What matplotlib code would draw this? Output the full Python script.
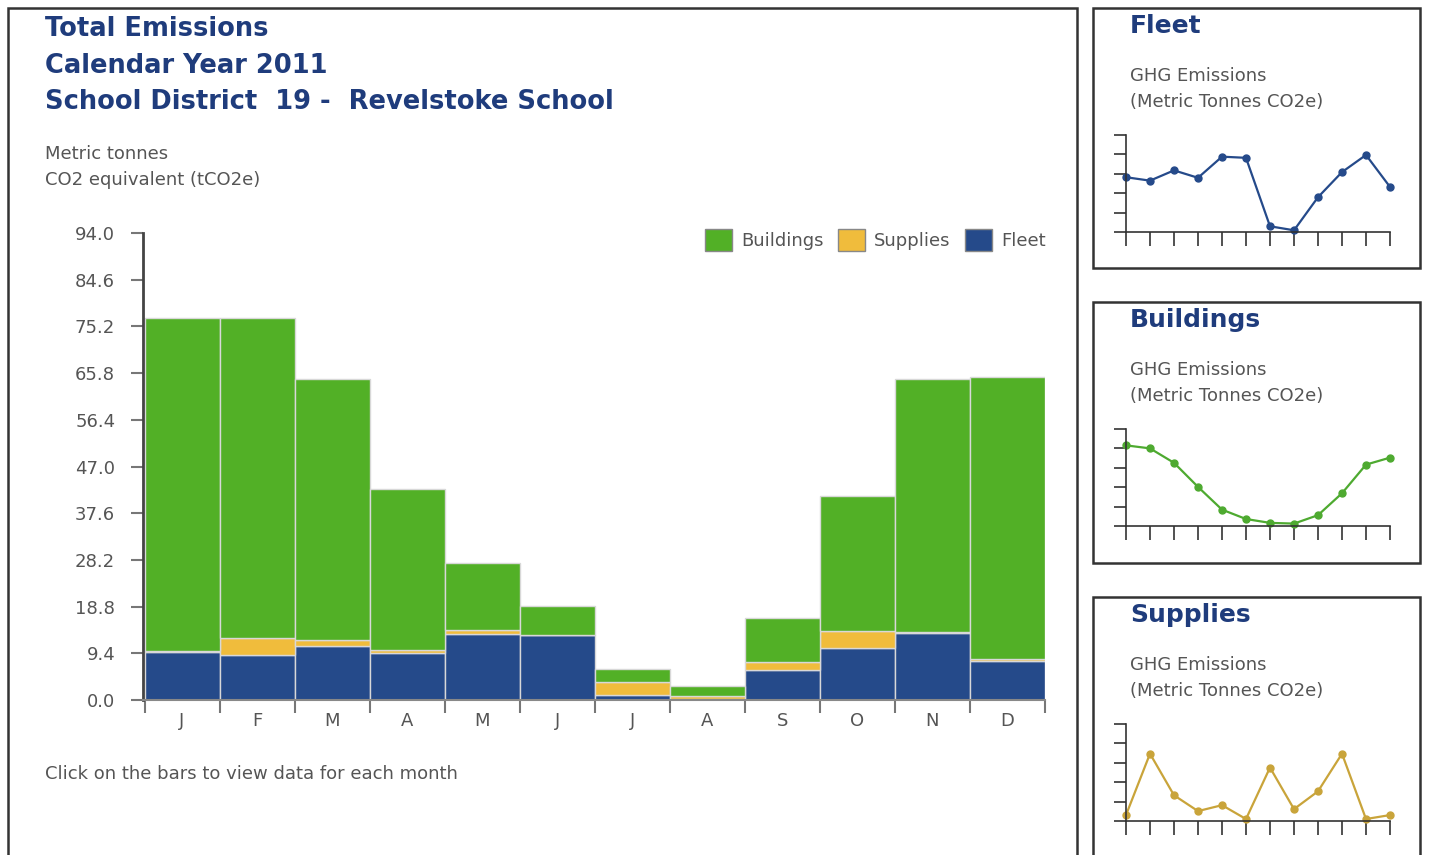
import matplotlib
matplotlib.use("Agg")
import matplotlib.pyplot as plt
from matplotlib.patches import Rectangle
import numpy as np

# monthly emissions 2011 (tCO2e)
months = ["J", "F", "M", "A", "M", "J", "J", "A", "S", "O", "N", "D"]
fleet = [9.6, 9.0, 10.8, 9.5, 13.2, 13.0, 1.0, 0.3, 6.1, 10.5, 13.5, 7.9]
supplies = [0.3, 3.4, 1.3, 0.5, 0.8, 0.1, 2.7, 0.6, 1.5, 3.4, 0.1, 0.3]
buildings = [67.0, 64.5, 52.5, 32.5, 13.6, 5.8, 2.6, 2.0, 9.0, 27.2, 51.0, 56.8]
yticks = [0.0, 9.4, 18.8, 28.2, 37.6, 47.0, 56.4, 65.8, 75.2, 84.6, 94.0]

W, H = 1429, 855
c_green = "#52b026"
c_yellow = "#f0bc3c"
c_navy = "#254a8a"
c_title = "#1f3c7c"
c_grey = "#555555"
fs_small = 13

fig = plt.figure(figsize=(W / 100, H / 100), dpi=100)


def px_axes(l, t, r, b):
    return fig.add_axes([l / W, 1 - b / H, (r - l) / W, (b - t) / H])


def frame(l, t, r, b):
    fig.add_artist(Rectangle((l / W, 1 - b / H), (r - l) / W, (b - t) / H,
                             transform=fig.transFigure, fill=False,
                             edgecolor="#333333", linewidth=1.8))


def ftext(x, y, s, **kw):
    fig.text(x / W, 1 - y / H, s, va="center", ha="left", **kw)


# main panel
frame(8, 8, 1077, 900)
ftext(45, 29, "Total Emissions", fontsize=18.5, fontweight="bold", color=c_title)
ftext(45, 66, "Calendar Year 2011", fontsize=18.5, fontweight="bold", color=c_title)
ftext(45, 102, "School District  19 -  Revelstoke School", fontsize=18.5,
      fontweight="bold", color=c_title)
ftext(45, 154, "Metric tonnes", fontsize=fs_small, color=c_grey)
ftext(45, 180, "CO2 equivalent (tCO2e)", fontsize=fs_small, color=c_grey)
ftext(45, 774, "Click on the bars to view data for each month", fontsize=fs_small,
      color=c_grey)

ax = px_axes(143, 233, 1045, 700)
x = np.arange(len(months))
b1 = np.array(fleet)
b2 = b1 + np.array(supplies)
ax.bar(x, fleet, width=1.0, color=c_navy, edgecolor="#d8d8d8", linewidth=1,
       label="Fleet")
ax.bar(x, supplies, bottom=b1, width=1.0, color=c_yellow, edgecolor="#d8d8d8",
       linewidth=1, label="Supplies")
ax.bar(x, buildings, bottom=b2, width=1.0, color=c_green, edgecolor="#d8d8d8",
       linewidth=1, label="Buildings")
ax.set_xlim(-0.52, 11.5)
ax.set_ylim(0, 94)
ax.set_yticks(yticks)
ax.set_yticklabels(["%.1f" % v for v in yticks], fontsize=fs_small, color=c_grey)
ax.set_xticks(x)
ax.set_xticklabels(months, fontsize=fs_small, color=c_grey)
ax.set_xticks(np.arange(-0.5, 12, 1), minor=True)
ax.tick_params(axis="x", which="major", length=0, pad=9)
ax.tick_params(axis="x", which="minor", length=9, width=1.5, color="#777777")
ax.tick_params(axis="y", length=9, width=1.5, color="#777777", pad=11)
for s in ["top", "right"]:
    ax.spines[s].set_visible(False)
ax.spines["left"].set_color("#444444")
ax.spines["left"].set_linewidth(2)
ax.spines["bottom"].set_color("#888888")
ax.spines["bottom"].set_linewidth(1.5)
h, l = ax.get_legend_handles_labels()
leg = ax.legend(h[::-1], l[::-1], ncol=3, loc="upper right",
                bbox_to_anchor=(1.015, 1.035), frameon=False, fontsize=fs_small,
                handlelength=1.5, handleheight=1.5, handletextpad=0.5,
                columnspacing=0.8, borderaxespad=0.3)
for t in leg.get_texts():
    t.set_color(c_grey)
for p in leg.get_patches():
    p.set_edgecolor("#888888")

# small panels
panels = [
    ("Fleet", fleet, c_navy, 8, 268, 17.0),
    ("Buildings", buildings, "#4eaa30", 302, 563, 80.6),
    ("Supplies", supplies, "#c9a43a", 597, 900, 4.9),
]
for name, vals, col, top, bot, ymax in panels:
    frame(1093, top, 1420, bot)
    ftext(1130, top + 18, name, fontsize=18, fontweight="bold", color=c_title)
    ftext(1130, top + 68, "GHG Emissions", fontsize=fs_small, color=c_grey)
    ftext(1130, top + 94, "(Metric Tonnes CO2e)", fontsize=fs_small, color=c_grey)
    sa = px_axes(1126, top + 127, 1390, top + 224)
    sa.plot(np.arange(12), vals, color=col, linewidth=1.6, marker="o",
            markersize=5, clip_on=False)
    sa.set_xlim(0, 11)
    sa.set_ylim(0, ymax)
    sa.set_xticks(np.arange(12))
    sa.set_yticks(np.linspace(0, ymax, 6))
    sa.set_xticklabels([])
    sa.set_yticklabels([])
    sa.tick_params(axis="x", length=10, width=1.2, color="#333333")
    sa.tick_params(axis="y", length=9, width=1.2, color="#333333")
    for s in ["top", "right"]:
        sa.spines[s].set_visible(False)
    for s in ["left", "bottom"]:
        sa.spines[s].set_color("#333333")
        sa.spines[s].set_linewidth(1.2)

fig.savefig("out.png", dpi=100)
